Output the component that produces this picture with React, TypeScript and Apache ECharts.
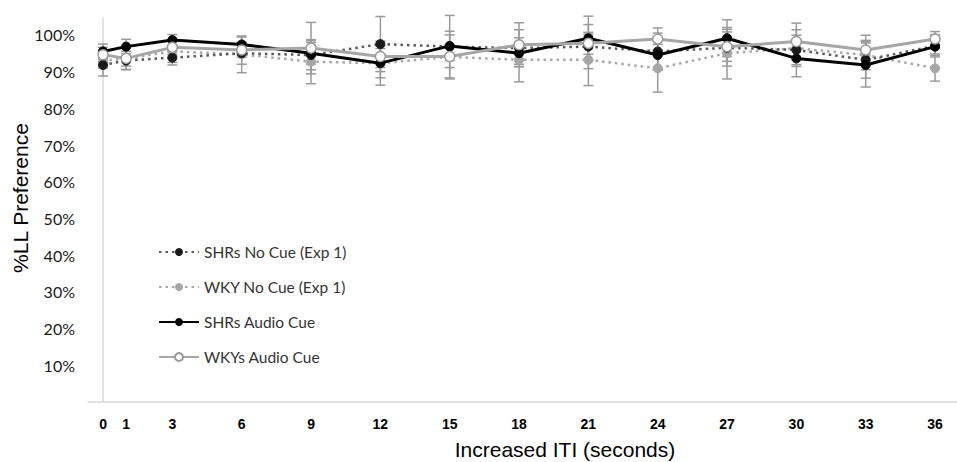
import React, { useEffect, useRef } from "react";
import * as echarts from "echarts";

const itiSeconds = [0, 1, 3, 6, 9, 12, 15, 18, 21, 24, 27, 30, 33, 36];
const shrNoCue = [91.8, 93, 93.8, 95, 94.5, 97.5, 96.8, 96.4, 96.8, 95.5, 96.5, 95.9, 93.2, 97];
const shrNoCueErr = [3, 2.5, 2, 3, 4, 7.5, 8.5, 5, 6, 5, 5, 4, 5, 3];
const wkyNoCue = [93, 93.5, 95.5, 94.7, 92.7, 92.3, 94, 93.2, 93.2, 90.9, 95, 96.4, 94.5, 90.9];
const wkyNoCueErr = [2, 2, 3, 5, 6, 6, 6, 6, 7, 6.5, 7, 5, 4, 3.5];
const shrAudio = [95.5, 96.8, 98.6, 97.4, 95.0, 92.3, 97, 95.0, 99.1, 94.5, 99.1, 93.6, 91.8, 96.8];
const shrAudioErr = [2, 2, 1.5, 2, 3, 4, 4, 3, 6, 4, 5, 5, 6, 2];
const wkyAudio = [94.6, 93.6, 96.6, 95.9, 96.4, 94.1, 94.1, 97.3, 97.7, 98.9, 96.8, 98.2, 95.9, 98.9];
const wkyAudioErr = [2, 3, 2, 2, 7, 3, 3, 6, 3, 3, 4, 5, 4, 2];
const seriesNames = ["SHRs No Cue (Exp 1)", "WKY No Cue (Exp 1)", "SHRs Audio Cue", "WKYs Audio Cue"];

const errData = () => {
  const out: number[][] = [];
  const all = [
    [shrNoCue, shrNoCueErr],
    [wkyNoCue, wkyNoCueErr],
    [shrAudio, shrAudioErr],
    [wkyAudio, wkyAudioErr],
  ];
  all.forEach(([vals, errs]) => {
    itiSeconds.forEach((x, i) => out.push([x, vals[i] - errs[i], vals[i] + errs[i]]));
  });
  return out;
};

export default function App() {
  const ref = useRef<HTMLDivElement>(null);
  useEffect(() => {
    if (!ref.current) return;
    const chart = echarts.init(ref.current, null, { renderer: "svg" });
    const pts = (v: number[]) => itiSeconds.map((x, i) => [x, v[i]]);
    chart.setOption({
      animation: false,
      grid: { left: 88, right: 0, top: 18, bottom: 60, containLabel: false },
      xAxis: {
        type: "value",
        min: -0.65,
        max: 36.95,
        axisLine: { show: true, lineStyle: { color: "#d9d9d9", width: 1.5 } },
        axisTick: { show: false },
        splitLine: { show: false },
        axisLabel: {
          customValues: itiSeconds,
          margin: 15,
          fontFamily: "Liberation Sans",
          fontWeight: "bold",
          fontSize: 14,
          color: "#000",
        },
      },
      yAxis: {
        type: "value",
        min: 0,
        max: 104.6,
        interval: 10,
        axisLine: { show: true, lineStyle: { color: "#d9d9d9", width: 1.5 } },
        axisTick: { show: false },
        splitLine: { show: false },
        axisLabel: {
          margin: 13,
          fontFamily: "Lato",
          fontSize: 16,
          color: "#1a1a1a",
          formatter: (v: number) => (v > 0 && v % 10 === 0 && v <= 100 ? v + "%" : ""),
        },
      },
      legend: {
        orient: "vertical",
        left: 153,
        top: 239,
        itemWidth: 40,
        itemHeight: 10,
        itemGap: 19,
        textStyle: { fontFamily: "Lato", fontSize: 15.5, color: "#333333", lineHeight: 16 },
        data: seriesNames,
      },
      graphic: [
        {
          type: "text",
          x: 20,
          y: 198,
          rotation: Math.PI / 2,
          style: {
            text: "%LL Preference",
            align: "center",
            verticalAlign: "middle",
            fontFamily: "Liberation Sans",
            fontSize: 21,
            fill: "#000",
          },
        },
        {
          type: "text",
          x: 565,
          y: 449,
          style: {
            text: "Increased ITI (seconds)",
            align: "center",
            verticalAlign: "middle",
            fontFamily: "Liberation Sans",
            fontSize: 21,
            fill: "#000",
          },
        },
      ],
      series: [
        {
          type: "custom",
          name: "err",
          silent: true,
          data: errData(),
          z: 1,
          renderItem: (params: any, api: any) => {
            const x = api.value(0);
            const lo = api.coord([x, api.value(1)]);
            const hi = api.coord([x, api.value(2)]);
            const w = 5;
            const style = { stroke: "#9a9a9a", lineWidth: 1.5 };
            return {
              type: "group",
              children: [
                { type: "line", shape: { x1: lo[0], y1: lo[1], x2: hi[0], y2: hi[1] }, style },
                { type: "line", shape: { x1: lo[0] - w, y1: lo[1], x2: lo[0] + w, y2: lo[1] }, style },
                { type: "line", shape: { x1: hi[0] - w, y1: hi[1], x2: hi[0] + w, y2: hi[1] }, style },
              ],
            };
          },
        },
        {
          type: "line",
          name: seriesNames[0],
          data: pts(shrNoCue),
          z: 3,
          symbol: "circle",
          symbolSize: 9,
          itemStyle: { color: "#1a1a1a", borderColor: "#1a1a1a" },
          lineStyle: { color: "#595959", width: 2.5, type: [2.5, 4] },
        },
        {
          type: "line",
          name: seriesNames[1],
          data: pts(wkyNoCue),
          z: 2,
          symbol: "circle",
          symbolSize: 9,
          itemStyle: { color: "#a6a6a6", borderColor: "#a6a6a6" },
          lineStyle: { color: "#a6a6a6", width: 2.5, type: [2.5, 4] },
        },
        {
          type: "line",
          name: seriesNames[2],
          data: pts(shrAudio),
          z: 4,
          symbol: "circle",
          symbolSize: 9,
          itemStyle: { color: "#000", borderColor: "#000" },
          lineStyle: { color: "#000", width: 3 },
        },
        {
          type: "line",
          name: seriesNames[3],
          data: pts(wkyAudio),
          z: 5,
          symbol: "circle",
          symbolSize: 10,
          itemStyle: { color: "#fff", borderColor: "#9a9a9a", borderWidth: 1.5 },
          lineStyle: { color: "#a6a6a6", width: 3 },
        },
      ],
    });
    return () => chart.dispose();
  }, []);
  return <div ref={ref} style={{ width: 957, height: 462, position: "absolute", left: 0, top: 0 }} />;
}
